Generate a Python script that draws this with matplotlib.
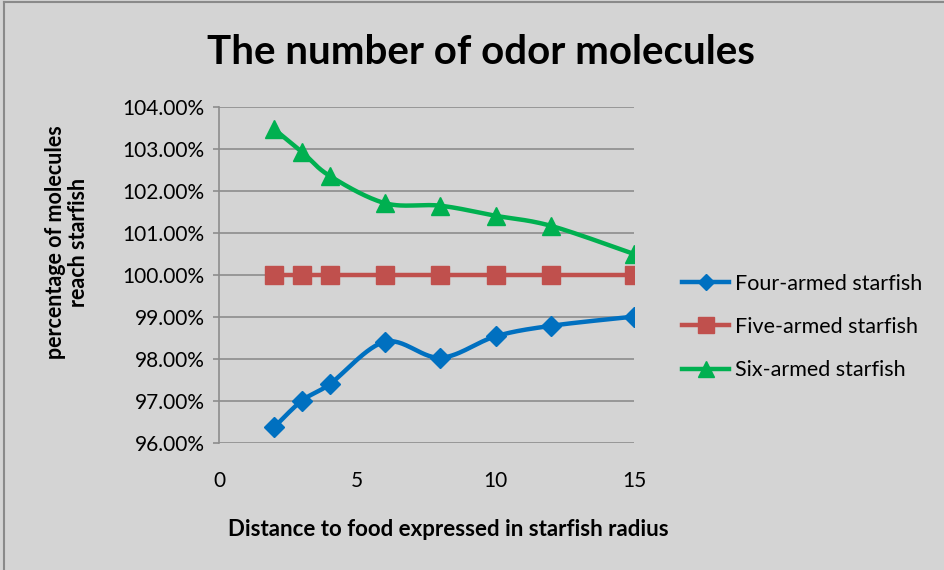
import numpy as np
import matplotlib
matplotlib.use("Agg")
import matplotlib.pyplot as plt
from matplotlib.lines import Line2D
from matplotlib.ticker import FuncFormatter

# data
distance = [2, 3, 4, 6, 8, 10, 12, 15]
four_armed = [96.38, 97.01, 97.40, 98.41, 98.03, 98.54, 98.79, 99.01]
five_armed = [100.0, 100.0, 100.0, 100.0, 100.0, 100.0, 100.0, 100.0]
six_armed = [103.47, 102.93, 102.36, 101.71, 101.65, 101.41, 101.17, 100.50]

series_names = ["Four-armed starfish", "Five-armed starfish", "Six-armed starfish"]

plt.rcParams['font.family'] = ['Lato', 'DejaVu Sans']


def smooth(x, y, n=30):
	# catmull-rom style bezier, like excel's smoothed line
	x = np.asarray(x, float)
	y = np.asarray(y, float)
	px = np.concatenate([[x[0]], x, [x[-1]]])
	py = np.concatenate([[y[0]], y, [y[-1]]])
	xs, ys = [], []
	t = np.linspace(0, 1, n)
	for i in range(1, len(px) - 2):
		p0 = np.array([px[i], py[i]])
		p3 = np.array([px[i+1], py[i+1]])
		c1 = p0 + (np.array([px[i+1], py[i+1]]) - np.array([px[i-1], py[i-1]])) / 6.
		c2 = p3 - (np.array([px[i+2], py[i+2]]) - np.array([px[i], py[i]])) / 6.
		b = ((1-t)**3)[:, None]*p0 + (3*(1-t)**2*t)[:, None]*c1 + (3*(1-t)*t**2)[:, None]*c2 + (t**3)[:, None]*p3
		xs.extend(b[:, 0])
		ys.extend(b[:, 1])
	return xs, ys


bg = '#d4d4d4'
fig = plt.figure(figsize=(9.44, 5.7), dpi=100, facecolor=bg)
# screenshot only shows the top and left edge of the chart border
fig.lines.append(Line2D([0.004, 0.004], [0, 0.996], transform=fig.transFigure, color='#8a8a8a', lw=1.5))
fig.lines.append(Line2D([0.004, 1], [0.996, 0.996], transform=fig.transFigure, color='#8a8a8a', lw=1.5))

ax = fig.add_axes([219/944., 1-443/570., (634-219)/944., (443-107)/570.])
ax.set_facecolor(bg)

styles = [
	(four_armed, '#0070C0', 'D', 10),
	(five_armed, '#C0504D', 's', 13),
	(six_armed, '#00B050', '^', 13),
]
handles = []
for (vals, col, mk, ms), name in zip(styles, series_names):
	sx, sy = smooth(distance, vals)
	ax.plot(sx, sy, color=col, lw=3.2, solid_capstyle='round', zorder=3)
	ax.plot(distance, vals, linestyle='none', marker=mk, ms=ms, color=col, zorder=4)
	h, = ax.plot([], [], color=col, lw=3.2, marker=mk, ms=ms*0.85, label=name)
	handles.append(h)

ax.set_xlim(0, 15)
ax.set_ylim(96, 104)
ax.set_xticks([0, 5, 10, 15])
ax.set_yticks(np.arange(96, 104.1, 1))
ax.yaxis.set_major_formatter(FuncFormatter(lambda v, p: "%.2f%%" % v))
ax.grid(axis='y', color='#8c8c8c', lw=1.2)
ax.set_axisbelow(True)

for s in ['top', 'right', 'bottom']:
	ax.spines[s].set_visible(False)
ax.spines['left'].set_color('#8c8c8c')
ax.spines['left'].set_linewidth(1.2)

ax.tick_params(axis='y', direction='out', length=4.3, color='#8c8c8c', width=1.2,
	labelsize=15, pad=6)
ax.tick_params(axis='x', length=0, labelsize=15, pad=20)

fig.text(448/944., 1-530/570., "Distance to food expressed in starfish radius",
	ha='center', va='center', fontsize=16, fontweight='bold')
fig.text(67/944., 1-242/570., "percentage of molecules\nreach starfish", rotation=90,
	ha='center', va='center', fontsize=15.5, fontweight='bold', linespacing=1.15)

fig.text(481/944., 1-52/570., "The number of odor molecules", ha='center', va='center',
	fontsize=29, fontweight='bold')

leg = fig.legend(handles=handles, loc='center left', bbox_to_anchor=(682/944., 1-327/570.),
	frameon=False, fontsize=15.5, handlelength=2.2, handletextpad=0.25,
	labelspacing=1.08, borderpad=0, borderaxespad=0)

fig.savefig("out.png", dpi=100, facecolor=bg)
